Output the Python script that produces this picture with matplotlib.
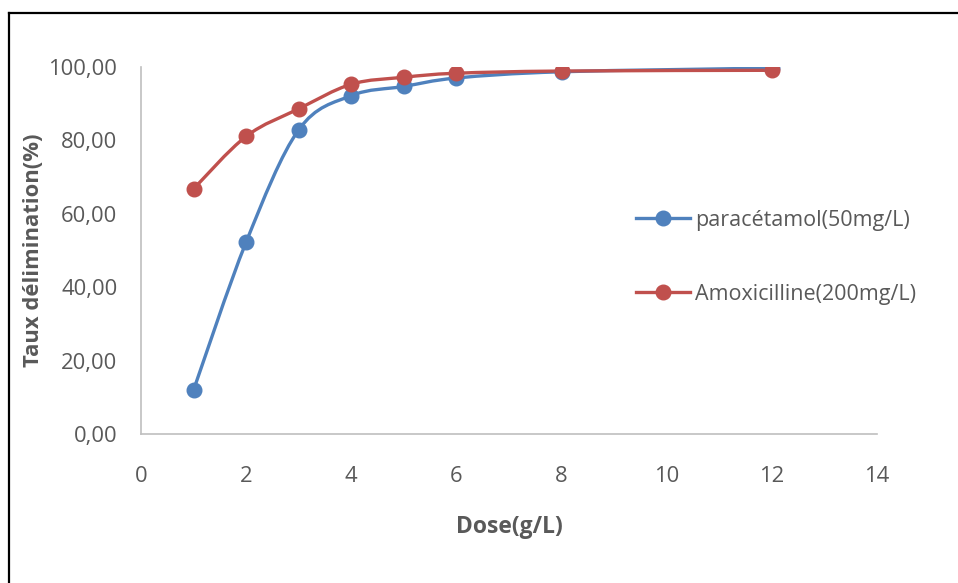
import matplotlib
matplotlib.use("Agg")
import matplotlib.pyplot as plt
from matplotlib.path import Path
from matplotlib.patches import PathPatch
from matplotlib.lines import Line2D
from matplotlib.ticker import FuncFormatter

plt.rcParams['font.family'] = ['Open Sans', 'DejaVu Sans']

dose = [1, 2, 3, 4, 5, 6, 8, 12]
paracetamol = [12.0, 52.3, 82.9, 92.2, 94.7, 97.0, 98.7, 99.7]
amoxicilline = [66.8, 81.1, 88.6, 95.3, 97.2, 98.3, 98.9, 99.1]
labels = ['paracétamol(50mg/L)', 'Amoxicilline(200mg/L)']
colors = ['#4F81BD', '#C0504D']
text_col = '#595959'


def smooth_path(xs, ys):
    # excel-like smoothed line: bezier segments through the points
    pts = list(zip(xs, ys))
    n = len(pts)
    verts = [pts[0]]
    codes = [Path.MOVETO]
    for i in range(n - 1):
        p0 = pts[i - 1] if i > 0 else pts[i]
        p1 = pts[i]
        p2 = pts[i + 1]
        p3 = pts[i + 2] if i + 2 < n else pts[i + 1]
        c1 = (p1[0] + (p2[0] - p0[0]) / 6, p1[1] + (p2[1] - p0[1]) / 6)
        c2 = (p2[0] - (p3[0] - p1[0]) / 6, p2[1] - (p3[1] - p1[1]) / 6)
        verts += [c1, c2, p2]
        codes += [Path.CURVE4] * 3
    return Path(verts, codes)


fig = plt.figure(figsize=(9.58, 5.83), dpi=100)
ax = fig.add_axes([141 / 958, 1 - 434 / 583, (877 - 141) / 958, (434 - 67) / 583])

for ys, c, lab in zip([paracetamol, amoxicilline], colors, labels):
    ax.add_patch(PathPatch(smooth_path(dose, ys), fill=False, edgecolor=c, lw=2.4,
                           capstyle='round', joinstyle='round'))
    ax.plot(dose, ys, ls='none', marker='o', ms=10.5, color=c, zorder=3)

handles = [Line2D([], [], color=c, lw=2.4, marker='o', ms=10.5) for c in colors]
ax.legend(handles, labels, loc='upper left', bbox_to_anchor=((636 - 141) / 736, (434 - 210) / 367),
          frameon=False, fontsize=15.5, labelcolor=text_col, handlelength=2.5,
          handletextpad=0.23, labelspacing=2.45, borderaxespad=0, borderpad=0)

ax.set_xlim(0, 14)
ax.set_ylim(0, 100)
ax.set_xticks(range(0, 15, 2))
ax.set_yticks(range(0, 101, 20))
ax.yaxis.set_major_formatter(FuncFormatter(lambda v, p: f'{v:.2f}'.replace('.', ',')))
ax.tick_params(length=0, labelsize=15.8, labelcolor=text_col)
ax.tick_params(axis='x', pad=23)
ax.tick_params(axis='y', pad=17)
for s in ['top', 'right']:
    ax.spines[s].set_visible(False)
for s in ['left', 'bottom']:
    ax.spines[s].set_color('#BFBFBF')
    ax.spines[s].set_linewidth(1.2)

ax.set_xlabel('Dose(g/L)', fontsize=16.5, fontweight='bold', color=text_col, labelpad=20)
ax.set_ylabel('Taux délimination(%)', fontsize=15.8, fontweight='bold', color=text_col, labelpad=3)

# outer chart frame (right and bottom edges fall outside the image)
fig.add_artist(Line2D([9 / 958, 9 / 958], [0, 1 - 13 / 583], color='black', lw=1.6))
fig.add_artist(Line2D([9 / 958, 1], [1 - 13 / 583, 1 - 13 / 583], color='black', lw=1.6))

fig.savefig('out.png', dpi=100)
